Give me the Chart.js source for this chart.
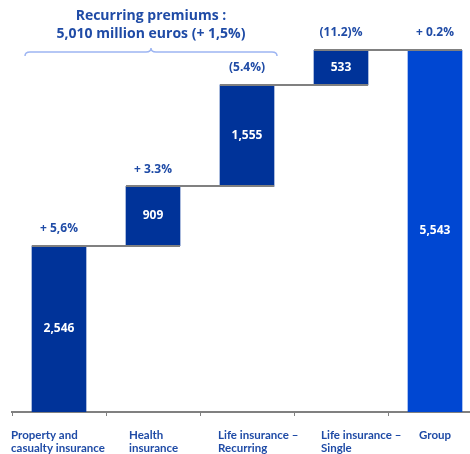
<!DOCTYPE html>
<html>
<head>
<meta charset="utf-8">
<script src="https://cdn.jsdelivr.net/npm/chart.js@4"></script>
<style>
    html, body { margin: 0; padding: 0; background: #fff; overflow: hidden; }
    #wrap { width: 482px; height: 454px; position: relative; }
</style>
</head>
<body>
<div id="wrap"><canvas id="charWaterfall"></canvas></div>
<script>
/* Datos */
const categories = [
    ['Property and', 'casualty insurance'],
    ['Health', 'insurance'],
    ['Life insurance \u2013', 'Recurring'],
    ['Life insurance \u2013', 'Single'],
    ['Group']
];
const premiums = [2546, 909, 1555, 533, 5543];
const valueLabels = ['2,546', '909', '1,555', '533', '5,543'];
const growth = ['+ 5,6%', '+ 3.3%', '(5.4%)', '(11.2)%', '+ 0.2%'];
const isTotal = [false, false, false, false, true];
const titleLines = ['Recurring premiums :', '5,010 million euros (+ 1,5%)'];

const darkBlue = '#003399';
const groupBlue = '#0047d2';
const textBlue = '#1f4ba6';
const grey = '#808080';
const fontFamily = 'Open Sans, sans-serif';

/* Barras flotantes (cascada) */
floating = [];
tops = [];
let acc = 0;
for (let i in premiums) {
    if (isTotal[i]) {
        floating.push([0, premiums[i]]);
        tops.push(premiums[i]);
    } else {
        floating.push([acc, acc + premiums[i]]);
        acc = acc + premiums[i];
        tops.push(acc);
    }
}

const waterfallPlugin = {
    id: 'waterfall',
    afterDatasetsDraw(chart) {
        const ctx = chart.ctx;
        const meta = chart.getDatasetMeta(0);
        const y = chart.scales.y;
        const bars = meta.data;

        /* lineas conectoras */
        ctx.save();
        ctx.strokeStyle = grey;
        ctx.lineWidth = 2;
        for (let i = 0; i < bars.length; i++) {
            const b = bars[i];
            const left = b.x - b.width / 2;
            const next = bars[i + 1];
            const right = next ? next.x + next.width / 2 : b.x + b.width / 2;
            const py = Math.round(y.getPixelForValue(tops[i]));
            ctx.beginPath();
            ctx.moveTo(left, py);
            ctx.lineTo(right, py);
            ctx.stroke();
        }

        /* valores dentro de las barras */
        ctx.fillStyle = '#ffffff';
        ctx.font = 'bold 12px ' + fontFamily;
        ctx.textAlign = 'center';
        ctx.textBaseline = 'middle';
        for (let i = 0; i < bars.length; i++) {
            const b = bars[i];
            ctx.fillText(valueLabels[i], b.x, (b.y + b.base) / 2);
        }

        /* variaciones encima */
        ctx.fillStyle = textBlue;
        ctx.font = 'bold 12px ' + fontFamily;
        for (let i = 0; i < bars.length; i++) {
            const b = bars[i];
            ctx.fillText(growth[i], b.x, Math.min(b.y, b.base) - 17);
        }

        /* etiquetas del eje */
        const labelShift = [-21, 3, -2, 7, 11];
        ctx.textAlign = 'left';
        ctx.textBaseline = 'alphabetic';
        ctx.font = 'bold 11.5px Lato, sans-serif';
        const base = chart.chartArea.bottom;
        for (let i = 0; i < bars.length; i++) {
            const b = bars[i];
            const lx = b.x - b.width / 2 + labelShift[i];
            categories[i].forEach((t, k) => ctx.fillText(t, lx, base + 27 + k * 13));
        }

        /* llave y titulo de primas recurrentes */
        const bL = bars[0].x - bars[0].width / 2 - 7;
        const bR = bars[2].x + 30;
        const mid = (bL + bR) / 2;
        const by = 52;
        ctx.strokeStyle = '#9db5f2';
        ctx.lineWidth = 1.5;
        ctx.beginPath();
        ctx.moveTo(bL, by + 4);
        ctx.quadraticCurveTo(bL, by, bL + 5, by);
        ctx.lineTo(mid - 5, by);
        ctx.quadraticCurveTo(mid, by, mid, by - 4);
        ctx.quadraticCurveTo(mid, by, mid + 5, by);
        ctx.lineTo(bR - 5, by);
        ctx.quadraticCurveTo(bR, by, bR, by + 4);
        ctx.stroke();

        ctx.fillStyle = textBlue;
        ctx.textAlign = 'center';
        ctx.font = 'bold 14px ' + fontFamily;
        ctx.fillText(titleLines[0], mid, 20);
        ctx.fillText(titleLines[1], mid, 38);
        ctx.restore();
    }
};

const cw = document.getElementById('charWaterfall');
const charWaterfall = new Chart(cw, {
    type: 'bar',
    data: {
        labels: categories,
        datasets: [{
            data: floating,
            backgroundColor: isTotal.map(t => t ? groupBlue : darkBlue),
            borderWidth: 0,
            barThickness: 54,
            borderSkipped: false,
        }, ],
    },
    options: {
        responsive: true,
        maintainAspectRatio: false,
        animation: false,
        layout: {
            padding: { top: 50, left: 12, right: 0, bottom: 38 },
        },
        scales: {
            x: {
                ticks: { display: false },
                grid: {
                    offset: true,
                    drawOnChartArea: false,
                    drawTicks: true,
                    tickLength: 4,
                    color: grey,
                    lineWidth: 1,
                },
                border: { display: true, color: grey, width: 2 },
            },
            y: {
                display: false,
                min: 0,
                max: 5543,
            },
        },
        plugins: {
            legend: { display: false },
            tooltip: { enabled: false },
        },
    },
    plugins: [waterfallPlugin],
});
</script>
</body>
</html>
